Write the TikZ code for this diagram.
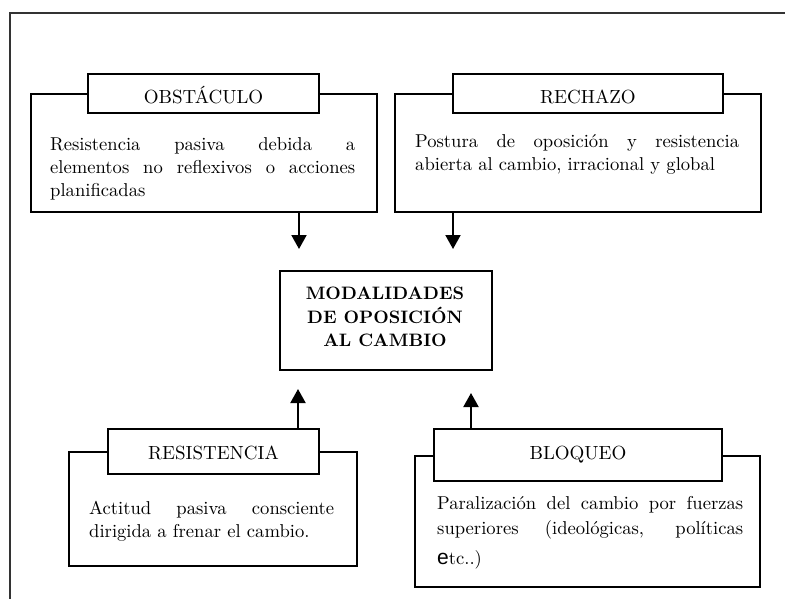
\documentclass[tikz,border=0pt]{standalone}
\usepackage{fontspec}
\setmainfont{lmroman10-regular.otf}[BoldFont=lmroman10-bold.otf]
\newfontfamily\efont{Liberation Sans}
\usetikzlibrary{arrows.meta}
\begin{document}
\begin{tikzpicture}[x=1pt,y=-1pt,
  frame/.style={draw=black!80, line width=2pt},
  bigbox/.style={draw, line width=2pt, rectangle, inner sep=0pt, anchor=north west},
  titlebox/.style={draw, fill=white, line width=2pt, rectangle, inner sep=0pt,
    anchor=north west, text depth=0pt, font=\fontsize{19}{23}\selectfont},
  body/.style={inner sep=0pt, anchor=north west, align=justify,
    font=\fontsize{18.6}{23}\selectfont},
  arr/.style={line width=2pt, -{Triangle[width=15pt,length=14pt]}},
]
\useasboundingbox (0,0) rectangle (785,598);

% outer frame
\draw[frame] (10,600) -- (10,13) -- (787,13);

% OBSTACULO
\node[bigbox, minimum width=346pt, minimum height=118pt] (obs) at (30,93) {};
\node[titlebox, minimum width=231pt, minimum height=39pt, text height=19pt] (obsT) at (87,73) {OBSTÁCULO};
\node[body, text width=305pt] (obsX) at (50,137)
  {Resistencia pasiva debida a\linebreak elementos no reflexivos o acciones\linebreak planificadas};

% RECHAZO
\node[bigbox, minimum width=366pt, minimum height=118pt] (rec) at (394,93) {};
\node[titlebox, minimum width=270pt, minimum height=39pt, text height=19pt] (recT) at (452,73) {RECHAZO};
\node[body, text width=324pt] (recX) at (415,134)
  {Postura de oposición y resistencia\linebreak abierta al cambio, irracional y global};

% central box
\node[bigbox, minimum width=212pt, minimum height=99pt] (mod) at (279,270) {};
\node[inner sep=0pt, anchor=north, align=center,
  font=\fontsize{18}{23.5}\selectfont\bfseries] (modX) at (385,287)
  {MODALIDADES\\DE OPOSICIÓN\\AL CAMBIO};

% RESISTENCIA
\node[bigbox, minimum width=288pt, minimum height=114pt] (res) at (68,451) {};
\node[titlebox, minimum width=211pt, minimum height=45pt, text height=15pt] (resT) at (107,428) {RESISTENCIA};
\node[body, text width=245pt] (resX) at (89,501)
  {Actitud pasiva consciente\linebreak dirigida a frenar el cambio.};

% BLOQUEO
\node[bigbox, minimum width=345pt, minimum height=131pt] (blo) at (414,455) {};
\node[titlebox, minimum width=288pt, minimum height=52pt, text height=8pt] (bloT) at (433,428) {BLOQUEO};
\node[body, text width=306pt, font=\fontsize{18.6}{25}\selectfont] (bloX) at (437,496)
  {{\parfillskip=0pt Paralización del cambio por fuerzas\linebreak superiores (ideológicas, políticas\par}
   \vspace{5pt}{\efont\fontsize{21}{25}\selectfont e}tc..)};

% connectors
\coordinate (tA) at (299,249);
\coordinate (tB) at (453,249);
\coordinate (tC) at (298,389);
\coordinate (tD) at (471,393);
\draw[arr] (obs.south -| tA) -- (tA);
\draw[arr] (rec.south -| tB) -- (tB);
\draw[arr] (resT.north -| tC) -- (tC);
\draw[arr] (bloT.north -| tD) -- (tD);
\end{tikzpicture}
\end{document}
